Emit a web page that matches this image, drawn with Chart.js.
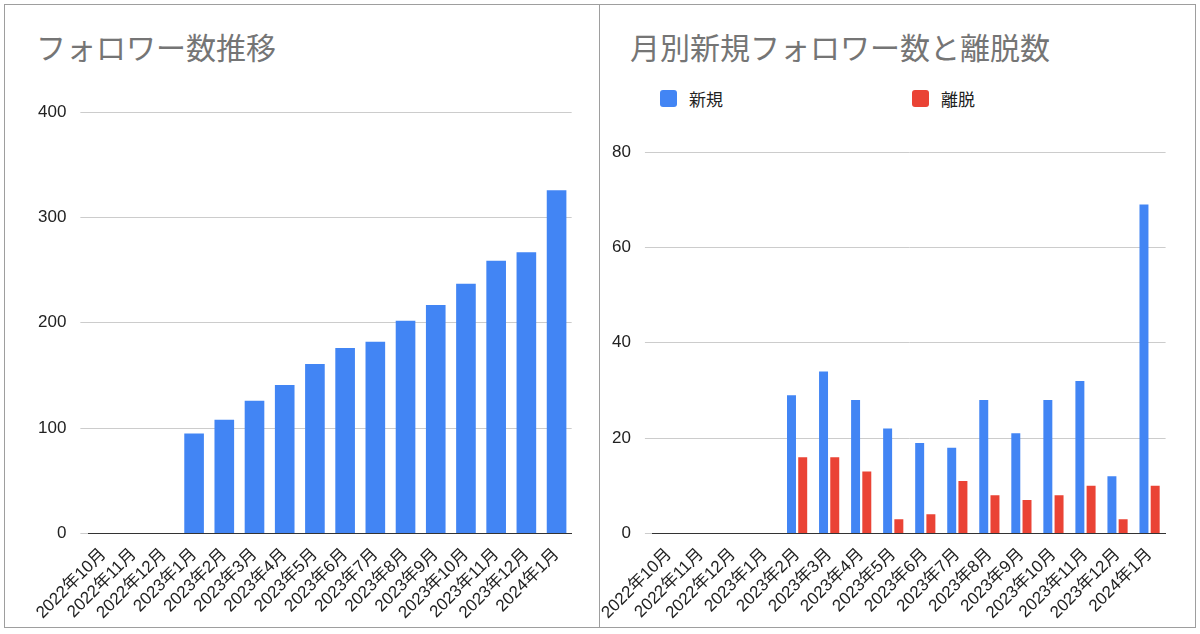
<!DOCTYPE html>
<html><head><meta charset="utf-8">
<script src="https://cdn.jsdelivr.net/npm/chart.js@4"></script>
<style>
body{margin:0;width:1200px;height:634px;background:#fff;font-family:"Noto Sans CJK JP",sans-serif;overflow:hidden}
.panel{position:absolute;top:4px;height:624px;border:1px solid #9e9e9e;box-sizing:border-box}
.title{position:absolute;top:24px;left:32px;font-size:30px;color:#757575}
.legend{position:absolute;top:86px;font-size:17px;color:#222;display:flex;align-items:center}
.legend span.sw{display:inline-block;width:17px;height:17px;border-radius:3px;margin-right:12px}
canvas{position:absolute}
</style></head><body>
<div class="panel" style="left:4px;width:596px"></div>
<div class="panel" style="left:599px;width:597px"></div>
<div class="title" style="left:36px">フォロワー数推移</div>
<div class="title" style="left:630px">月別新規フォロワー数と離脱数</div>
<div class="legend" style="left:660px"><span class="sw" style="background:#4285F4"></span>新規</div>
<div class="legend" style="left:912px"><span class="sw" style="background:#EA4335"></span>離脱</div>
<div style="position:absolute;left:24px;top:88px;width:550px;height:538px"><canvas id="c1"></canvas></div>
<div style="position:absolute;left:598px;top:128px;width:569px;height:498px"><canvas id="c2"></canvas></div>
<script>
const months = ["2022年10月","2022年11月","2022年12月","2023年1月","2023年2月","2023年3月","2023年4月","2023年5月","2023年6月","2023年7月","2023年8月","2023年9月","2023年10月","2023年11月","2023年12月","2024年1月"];
const followers = [0,0,0,95,108,126,141,161,176,182,202,217,237,259,267,326];
const newFollowers = [0,0,0,0,29,34,28,22,19,18,28,21,28,32,12,69];
const leftFollowers = [0,0,0,0,16,16,13,3,4,11,8,7,8,10,3,10];

function axes(max, step) {
    return {
        x: { grid: { display: false }, border: { color: '#333' },
             ticks: { color: '#222', font: { size: 17 }, minRotation: 45, maxRotation: 45, autoSkip: false } },
        y: { min: 0, max: max, grid: { color: '#ccc' }, border: { display: false },
             ticks: { stepSize: step, color: '#222', font: { size: 17 }, padding: 14 } }
    };
}
Chart.defaults.font.family = '"Liberation Sans", "Noto Sans CJK JP", sans-serif';
new Chart(document.getElementById('c1'), {
    type: 'bar',
    data: { labels: months, datasets: [{ data: followers, backgroundColor: '#4285F4', categoryPercentage: 0.65, barPercentage: 1 }] },
    options: { responsive: true, maintainAspectRatio: false, animation: false,
        plugins: { legend: { display: false } }, scales: axes(400, 100) }
});
new Chart(document.getElementById('c2'), {
    type: 'bar',
    data: { labels: months, datasets: [
        { label: '新規', data: newFollowers, backgroundColor: '#4285F4', categoryPercentage: 0.7, barPercentage: 0.8 },
        { label: '離脱', data: leftFollowers, backgroundColor: '#EA4335', categoryPercentage: 0.7, barPercentage: 0.8 }
    ] },
    options: { responsive: true, maintainAspectRatio: false, animation: false,
        plugins: { legend: { display: false } }, scales: axes(80, 20) }
});
</script>
</body></html>
